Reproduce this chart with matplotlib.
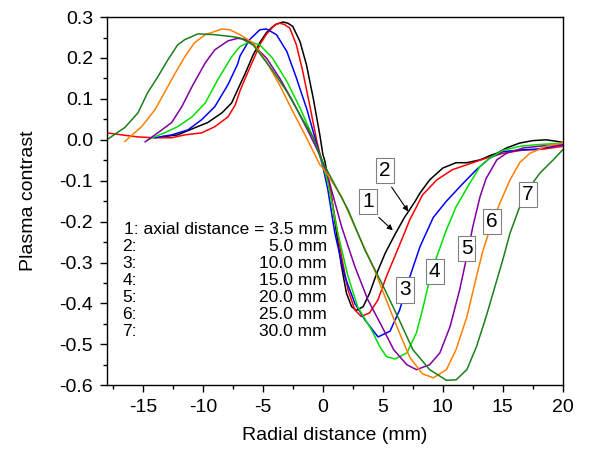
import matplotlib.pyplot as plt
from matplotlib.ticker import MultipleLocator

plt.rcParams['font.family'] = ['Liberation Sans', 'DejaVu Sans']

# Donnees (distance radiale en mm, contraste plasma)
x1 = [-13.5, -12.1, -10.7, -9.6, -8.4, -7.6, -6.9, -6.5, -5.8, -5.2, -4.7, -4.2, -3.86, -3.3, -2.9, -2.5,
      -1.9, -1.36, -0.8, -0.25, 0.0, 0.17, 0.72, 1.14, 1.56, 1.97, 2.4, 2.8, 3.36, 3.9, 4.5, 5.2, 6.0, 6.8,
      7.7, 8.1, 8.9, 10.0, 11.1, 12.0, 13.1, 13.9, 14.5, 15.3, 16.4, 17.5, 18.6, 19.75, 20.0]
y1 = [0.007, 0.012, 0.029, 0.042, 0.066, 0.09, 0.135, 0.16, 0.208, 0.24, 0.262, 0.276, 0.283, 0.288, 0.285, 0.277,
      0.24, 0.183, 0.102, 0.012, -0.035, -0.052, -0.139, -0.228, -0.31, -0.375, -0.408, -0.417, -0.408, -0.375,
      -0.326, -0.277, -0.232, -0.19, -0.15, -0.13, -0.098, -0.069, -0.056, -0.056, -0.049, -0.039, -0.033, -0.02,
      -0.008, -0.002, 0.0, -0.005, -0.007]

x2 = [-18.0, -16.75, -15.4, -14.0, -12.6, -11.5, -10.1, -9.0, -7.9, -7.3, -6.9, -6.5, -5.8, -5.2, -4.7, -4.0,
      -3.6, -3.2, -2.75, -2.2, -1.67, -1.1, -0.5, -0.1, 0.42, 1.0, 1.56, 2.1, 2.67, 3.2, 3.9, 4.6, 5.3, 6.0,
      6.8, 7.25, 7.7, 8.3, 9.5, 10.8, 12.5, 13.6, 15.0, 16.7, 18.3, 20.0]
y2 = [0.017, 0.012, 0.007, 0.005, 0.005, 0.012, 0.017, 0.032, 0.056, 0.085, 0.12, 0.148, 0.195, 0.235, 0.258, 0.281,
      0.285, 0.282, 0.273, 0.232, 0.167, 0.086, -0.004, -0.05, -0.09, -0.188, -0.285, -0.367, -0.416, -0.432,
      -0.423, -0.391, -0.334, -0.285, -0.228, -0.195, -0.17, -0.135, -0.098, -0.073, -0.056, -0.045, -0.033,
      -0.025, -0.023, -0.016]

x3 = [-14.0, -12.6, -11.25, -10.1, -9.0, -7.9, -7.1, -6.9, -6.1, -5.25, -4.7, -3.86, -3.0, -2.2, -1.3, -0.5,
      0.0, 0.42, 1.0, 1.83, 2.67, 3.5, 4.6, 5.6, 6.4, 7.25, 8.1, 9.2, 10.3, 11.7, 12.8, 13.9, 15.0, 16.4,
      17.8, 20.0]
y3 = [0.005, 0.012, 0.024, 0.049, 0.081, 0.135, 0.185, 0.205, 0.245, 0.269, 0.271, 0.257, 0.216, 0.151, 0.072,
      -0.012, -0.065, -0.122, -0.228, -0.334, -0.4, -0.44, -0.482, -0.468, -0.416, -0.335, -0.261, -0.19,
      -0.15, -0.106, -0.073, -0.045, -0.029, -0.025, -0.023, -0.012]

x4 = [-14.6, -13.2, -12.1, -10.9, -9.8, -8.75, -7.6, -6.9, -6.1, -5.25, -4.2, -3.0, -1.9, -0.8, 0.0, 0.42,
      1.25, 2.1, 2.9, 4.06, 4.75, 5.3, 6.0, 7.0, 7.8, 8.3, 8.9, 9.5, 10.3, 11.1, 12.25, 13.1, 13.9, 15.0,
      16.4, 17.8, 20.0]
y4 = [0.0, 0.017, 0.032, 0.056, 0.09, 0.147, 0.203, 0.228, 0.24, 0.232, 0.2, 0.143, 0.078, 0.005, -0.06, -0.105,
      -0.228, -0.334, -0.408, -0.465, -0.506, -0.53, -0.536, -0.521, -0.472, -0.416, -0.342, -0.285, -0.22,
      -0.164, -0.106, -0.065, -0.045, -0.026, -0.016, -0.012, -0.008]

x5 = [-14.8, -13.75, -12.6, -11.75, -10.9, -9.8, -9.0, -7.9, -7.1, -6.5, -5.8, -4.7, -3.6, -2.5, -1.36, -0.25,
      0.0, 0.42, 1.56, 2.67, 3.75, 4.9, 5.9, 7.0, 7.8, 8.9, 9.75, 10.6, 11.4, 12.0, 12.5, 13.1, 13.6, 14.5,
      15.3, 16.7, 18.3, 20.0]
y5 = [-0.005, 0.017, 0.042, 0.081, 0.13, 0.188, 0.22, 0.242, 0.248, 0.246, 0.232, 0.2, 0.151, 0.094, 0.029, -0.037,
      -0.055, -0.09, -0.212, -0.31, -0.391, -0.455, -0.513, -0.55, -0.562, -0.55, -0.521, -0.457, -0.367,
      -0.285, -0.212, -0.139, -0.095, -0.049, -0.033, -0.02, -0.015, -0.012]

x6 = [-16.5, -15.1, -14.0, -13.2, -12.3, -11.5, -10.7, -9.8, -8.4, -7.75, -6.9, -5.8, -4.7, -3.6, -2.5, -1.36,
      -0.25, 0.17, 1.56, 2.9, 4.3, 5.8, 6.5, 7.25, 8.3, 9.2, 10.3, 11.1, 12.0, 12.8, 13.3, 13.9, 14.75, 15.6,
      16.4, 17.25, 18.6, 20.0]
y6 = [-0.004, 0.032, 0.073, 0.115, 0.163, 0.203, 0.237, 0.257, 0.271, 0.269, 0.257, 0.237, 0.191, 0.134, 0.069,
      0.005, -0.061, -0.075, -0.139, -0.228, -0.318, -0.43, -0.48, -0.532, -0.572, -0.582, -0.562, -0.513,
      -0.433, -0.335, -0.275, -0.22, -0.155, -0.098, -0.056, -0.033, -0.016, -0.008]

x7 = [-18.0, -16.5, -15.4, -14.6, -13.75, -12.9, -12.1, -11.5, -10.4, -9.0, -7.5, -6.9, -5.8, -4.2, -3.0, -1.9,
      -0.8, 0.0, 1.0, 2.1, 3.5, 4.9, 6.25, 7.5, 8.9, 10.3, 11.1, 12.0, 12.8, 13.6, 15.0, 15.6, 16.4, 17.25,
      18.1, 19.2, 20.0]
y7 = [0.0, 0.03, 0.066, 0.115, 0.154, 0.196, 0.232, 0.245, 0.259, 0.257, 0.252, 0.249, 0.232, 0.17, 0.118, 0.061,
      0.005, -0.055, -0.11, -0.171, -0.269, -0.35, -0.433, -0.513, -0.562, -0.588, -0.587, -0.562, -0.506,
      -0.433, -0.293, -0.228, -0.164, -0.115, -0.081, -0.049, -0.024]

series_x = [x1, x2, x3, x4, x5, x6, x7]
series_y = [y1, y2, y3, y4, y5, y6, y7]
colors = ['black', '#ff0000', '#0000ff', '#00e000', '#8000a0', '#ff8000', '#1a801a']

curve_labels = ['1', '2', '3', '4', '5', '6', '7']
label_x = [3.78, 5.17, 6.83, 9.33, 11.97, 14.06, 17.1]
label_y = [-0.151, -0.075, -0.367, -0.322, -0.265, -0.2, -0.134]

legend_left = ['', '2:', '3:', '4:', '5:', '6:', '7:']
legend_right = ['1: axial distance = 3.5 mm', '5.0 mm', '10.0 mm', '15.0 mm', '20.0 mm', '25.0 mm', '30.0 mm']

fig = plt.figure(figsize=(5.9, 4.5), dpi=100)
ax = fig.add_axes([0.181, 0.144, 0.773, 0.818])

for xs, ys, c in zip(series_x, series_y, colors):
    ax.plot(xs, ys, color=c, lw=1.1)

box = dict(boxstyle='square,pad=0.15', fc='white', ec='#808080', lw=0.8)
for lab, lx, ly in zip(curve_labels, label_x, label_y):
    ax.text(lx, ly, lab, fontsize=15, ha='center', va='center', bbox=box, zorder=5)

# fleches pour les courbes 1 et 2
ax.annotate('', xy=(6.0, -0.226), xytext=(4.5, -0.185),
            arrowprops=dict(arrowstyle='-|>', color='black', lw=0.8, mutation_scale=8))
ax.annotate('', xy=(7.25, -0.181), xytext=(5.6, -0.11),
            arrowprops=dict(arrowstyle='-|>', color='black', lw=0.8, mutation_scale=8))

# legende texte
for i, (lt, rt) in enumerate(zip(legend_left, legend_right)):
    yy = -0.22 - i * 0.0415
    if lt:
        ax.text(-16.7, yy, lt, fontsize=12.5, ha='left', va='center')
    ax.text(0.35, yy, rt, fontsize=12.5, ha='right', va='center')

ax.set_xlim(-18, 20)
ax.set_ylim(-0.6, 0.3)
ax.xaxis.set_minor_locator(MultipleLocator(2.5))
ax.yaxis.set_minor_locator(MultipleLocator(0.05))
ax.set_yticks([-0.6, -0.5, -0.4, -0.3, -0.2, -0.1, 0.0, 0.1, 0.2, 0.3])
ax.set_yticklabels(['-0.6', '-0.5', '-0.4', '-0.3', '-0.2', '-0.1', '0.0', '0.1', '0.2', '0.3'])
ax.set_xticks([-15, -10, -5, 0, 5, 10, 15, 20])
ax.set_xticklabels(['-15', '-10', '-5', '0', '5', '10', '15', '20'])
ax.tick_params(which='major', direction='out', length=5, width=1, labelsize=14, pad=5)
ax.tick_params(which='minor', direction='out', length=3, width=1)
for sp in ax.spines.values():
    sp.set_linewidth(1.0)

ax.set_xlabel('Radial distance (mm)', fontsize=14, labelpad=8)
ax.set_ylabel('Plasma contrast', fontsize=14, labelpad=16)

plt.savefig('out.png', dpi=100)
plt.close()
